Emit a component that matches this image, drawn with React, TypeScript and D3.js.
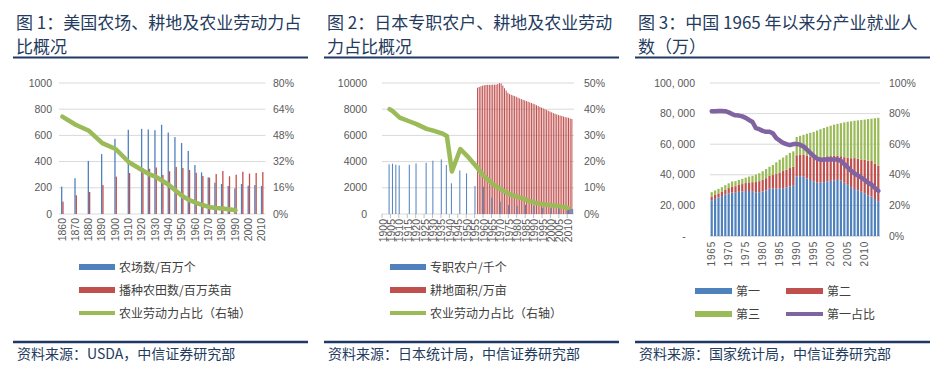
import React from 'react';
import * as d3 from 'd3';

const CJK = '"Noto Sans CJK SC", "Noto Sans", sans-serif';
const NUM = '"Liberation Sans", Arial, "Noto Sans CJK SC", sans-serif';
const NAVY = '#1f3864';
const TITLE_C = '#243b5e';
const AXIS_C = '#595959';
const GRID_C = '#d9d9d9';
const BLUE = '#4f81bd';
const RED = '#c0504d';
const GREEN = '#9bbb59';
const PURPLE = '#8064a2';

// ---------- Panel 1: USA ----------
const usYears = [1860, 1865, 1870, 1875, 1880, 1885, 1890, 1895, 1900, 1905, 1910, 1915, 1920, 1925, 1930, 1935, 1940, 1945, 1950, 1955, 1960, 1965, 1970, 1975, 1980, 1985, 1990, 1995, 2000, 2005, 2010];
const usFarms: (number | null)[] = [209, null, 273, null, 405, null, 457, null, 574, null, 643, null, 650, 645, 640, 681, 622, 587, 542, 481, 374, 318, 280, 239, 229, 214, 196, 229, 216, 221, 214];
const usCropland: (number | null)[] = [94, null, 143, null, 168, null, 221, null, 285, null, 313, null, 351, 345, 355, 298, 326, 359, 351, 336, 315, 290, 277, 305, 328, 288, 300, 323, 308, 313, 320];
const usLaborShare: (number | null)[] = [59.5, null, 54.5, null, 50.8, null, 43.3, null, 39.7, null, 31.6, null, 26.7, 24.4, 22.8, 20.3, 17.7, 14.4, 11.0, 8.6, 7.0, 5.5, 4.3, 3.7, 3.3, 2.9, 2.3, null, null, null, null];
const usLeftTicks = [0, 200, 400, 600, 800, 1000];
const usRightTicks = [0, 16, 32, 48, 64, 80];
const usLabelYears = [1860, 1870, 1880, 1890, 1900, 1910, 1920, 1930, 1940, 1950, 1960, 1970, 1980, 1990, 2000, 2010];

// ---------- Panel 2: Japan ----------
const jpYears = d3.range(1900, 2014);
const jpFarmYears = [1904, 1906, 1908, 1910, 1916, 1920, 1926, 1930, 1935, 1938, 1941, 1946, 1950, 1955, 1960, 1965, 1970, 1975, 1980, 1985, 1990, 1995, 2000, 2005, 2010, 2011, 2012, 2013];
const jpFarmValues = [3790, 3840, 3760, 3710, 3760, 3860, 3910, 4070, 4170, 3740, 2340, 3330, 3100, 2140, 2080, 1250, 940, 690, 620, 690, 610, 480, 450, 440, 400, 380, 380, 380];
const jpLandYears = [1956, 1957, 1958, 1959, 1960, 1961, 1962, 1963, 1964, 1965, 1966, 1967, 1968, 1969, 1970, 1971, 1972, 1973, 1974, 1975, 1976, 1977, 1978, 1979, 1980, 1981, 1982, 1983, 1984, 1985, 1986, 1987, 1988, 1989, 1990, 1991, 1992, 1993, 1994, 1995, 1996, 1997, 1998, 1999, 2000, 2001, 2002, 2003, 2004, 2005, 2006, 2007, 2008, 2009, 2010, 2011, 2012];
const jpLandValues = [9640, 9700, 9750, 9800, 9830, 9850, 9860, 9860, 9860, 9870, 9870, 9880, 9920, 9990, 9960, 9800, 9600, 9420, 9250, 9150, 9100, 9050, 9000, 8950, 8880, 8820, 8770, 8720, 8670, 8620, 8570, 8520, 8470, 8420, 8370, 8300, 8240, 8180, 8120, 8060, 8000, 7950, 7880, 7820, 7760, 7700, 7650, 7600, 7560, 7520, 7480, 7440, 7400, 7370, 7340, 7290, 7250];
const jpLaborYears = [1904, 1906, 1910, 1916, 1920, 1926, 1930, 1935, 1938, 1941, 1946, 1950, 1955, 1960, 1965, 1970, 1975, 1980, 1985, 1990, 1995, 2000, 2005, 2010];
const jpLaborValues = [40.0, 39.2, 36.8, 35.3, 34.3, 32.5, 31.8, 30.8, 29.8, 16.2, 24.8, 22.2, 18.5, 14.5, 11.6, 9.4, 7.6, 6.5, 5.5, 4.3, 3.7, 3.3, 3.0, 2.3];
const jpLeftTicks = [0, 2000, 4000, 6000, 8000, 10000];
const jpRightTicks = [0, 10, 20, 30, 40, 50];
const jpLabelYears = [1900, 1905, 1910, 1915, 1920, 1925, 1930, 1935, 1940, 1945, 1950, 1955, 1960, 1965, 1970, 1975, 1980, 1985, 1990, 1995, 2000, 2005, 2010];

// ---------- Panel 3: China ----------
const cnYears = d3.range(1965, 2015);
const cnPrimary = [23396, 24297, 25165, 26063, 27117, 27811, 28397, 28283, 28857, 29218, 29456, 29443, 29340, 28318, 28634, 29122, 29777, 30859, 31151, 30868, 31130, 31254, 31663, 32249, 33225, 38914, 39098, 38699, 37680, 36628, 35530, 34820, 34840, 35177, 35768, 36043, 36399, 36640, 36204, 34830, 33442, 31941, 30731, 29923, 28890, 27931, 26594, 25773, 24171, 22790];
const cnSecondary = [2408, 2600, 2661, 2743, 3030, 3518, 4006, 4276, 4492, 4712, 5152, 5611, 5831, 6945, 7214, 7707, 8003, 8346, 8679, 9590, 10384, 11216, 11726, 12152, 11976, 13856, 14015, 14355, 14965, 15312, 15655, 16203, 16547, 16600, 16421, 16219, 16234, 15682, 15927, 16709, 17766, 18894, 20186, 20553, 21080, 21842, 22544, 23241, 23170, 23099];
const cnTertiary = [2866, 2908, 2988, 3109, 3078, 3103, 3217, 3295, 3303, 3439, 3560, 3780, 4206, 4890, 5177, 5532, 5945, 6090, 6606, 7739, 8359, 8811, 9395, 9933, 10129, 11979, 12378, 13098, 14163, 15515, 16880, 17927, 18432, 18860, 19205, 19823, 20165, 20958, 21605, 22725, 23439, 24143, 24404, 25087, 25857, 26332, 27282, 27690, 29636, 31364];
const cnPrimaryShare = [81.6, 81.5, 81.7, 81.7, 81.6, 80.8, 79.7, 78.9, 78.7, 78.2, 77.2, 75.8, 74.5, 70.5, 69.8, 68.7, 68.1, 68.1, 67.1, 64.0, 62.4, 60.9, 60.0, 59.4, 60.1, 60.1, 59.7, 58.5, 56.4, 54.3, 52.2, 50.5, 49.9, 49.8, 50.1, 50.0, 50.0, 50.0, 49.1, 46.9, 44.8, 42.6, 40.8, 39.6, 38.1, 36.7, 34.8, 33.6, 31.4, 29.5];
const cnLeftTicks = [0, 20000, 40000, 60000, 80000, 100000];
const cnRightTicks = [0, 20, 40, 60, 80, 100];
const cnLabelYears = [1965, 1970, 1975, 1980, 1985, 1990, 1995, 2000, 2005, 2010];

const titles = [
  ['图 1：美国农场、耕地及农业劳动力占', '比概况'],
  ['图 2：日本专职农户、耕地及农业劳动', '力占比概况'],
  ['图 3：中国 1965 年以来分产业就业人', '数（万）'],
];
const sources = ['资料来源：USDA，中信证券研究部', '资料来源：日本统计局，中信证券研究部', '资料来源：国家统计局，中信证券研究部'];
const legend1 = ['农场数/百万个', '播种农田数/百万英亩', '农业劳动力占比（右轴）'];
const legend2 = ['专职农户/千个', '耕地面积/万亩', '农业劳动力占比（右轴）'];
const legend3 = ['第一', '第二', '第三', '第一占比'];

const panelX = [0, 311, 622];

function Frame({ i }: { i: number }) {
  const ox = panelX[i];
  return (
    <g>
      {titles[i].map((t, k) => (
        <text key={k} x={ox + 16} y={23 + k * 24} dy="0.38em" fontFamily={CJK} fontSize={17} fill={TITLE_C}>{t}</text>
      ))}
      <line x1={ox + 13} x2={ox + 308} y1={57.5} y2={57.5} stroke={NAVY} strokeWidth={2} />
      <line x1={ox + 13} x2={ox + 308} y1={342} y2={342} stroke={NAVY} strokeWidth={2.5} />
      <text x={ox + 17} y={354} dy="0.38em" fontFamily={CJK} fontSize={14} fill={TITLE_C}>{sources[i]}</text>
    </g>
  );
}

function lineFrom(xs: number[], ys: number[]) {
  const pts: [number, number][] = xs.map((x, k) => [x, ys[k]]);
  return d3.line()(pts) || '';
}

function Panel1() {
  const x = d3.scaleBand<number>().domain(usYears).range([59, 265.5]);
  const y = d3.scaleLinear().domain([0, 1000]).range([214, 83]);
  const yr = d3.scaleLinear().domain([0, 80]).range([214, 83]);
  const c = (yr0: number) => (x(yr0) as number) + x.bandwidth() / 2;
  const bw = 1.3;
  const lx: number[] = [], ly: number[] = [];
  usYears.forEach((yy, k) => { const v = usLaborShare[k]; if (v != null) { lx.push(c(yy)); ly.push(yr(v)); } });
  return (
    <g>
      {usLeftTicks.map(t => <line key={t} x1={59} x2={265.5} y1={y(t)} y2={y(t)} stroke={GRID_C} strokeWidth={1} />)}
      {usLeftTicks.map(t => <text key={'l' + t} x={52} y={y(t)} dy="0.35em" textAnchor="end" fontFamily={NUM} fontSize={10.5} fill={AXIS_C}>{t}</text>)}
      {usRightTicks.map(t => <text key={'r' + t} x={273} y={yr(t)} dy="0.35em" fontFamily={NUM} fontSize={10.5} fill={AXIS_C}>{t + '%'}</text>)}
      {usYears.map((yy, k) => usFarms[k] != null ? <rect key={'b' + yy} x={c(yy) - bw} width={bw} y={y(usFarms[k] as number)} height={214 - y(usFarms[k] as number)} fill={BLUE} /> : null)}
      {usYears.map((yy, k) => usCropland[k] != null ? <rect key={'r' + yy} x={c(yy)} width={bw} y={y(usCropland[k] as number)} height={214 - y(usCropland[k] as number)} fill={RED} /> : null)}
      <path d={lineFrom(lx, ly)} fill="none" stroke={GREEN} strokeWidth={4.5} strokeLinejoin="round" strokeLinecap="round" />
      {usLabelYears.map(yy => (
        <text key={'x' + yy} transform={`translate(${c(yy) - 0.5},218) rotate(-90)`} dy="0.35em" textAnchor="end" fontFamily={NUM} fontSize={10.5} fill={AXIS_C}>{yy}</text>
      ))}
      <Legend x={79} labels={legend1} />
    </g>
  );
}

function Legend({ x, labels }: { x: number; labels: string[] }) {
  const rows = [267, 290, 313];
  const cols = [BLUE, RED, GREEN];
  return (
    <g>
      {labels.map((l, k) => (
        <g key={k}>
          {k < 2 ? <rect x={x} y={rows[k] - 3} width={36} height={6} fill={cols[k]} /> : <line x1={x} x2={x + 36} y1={rows[k]} y2={rows[k]} stroke={cols[k]} strokeWidth={4} />}
          <text x={x + 40} y={rows[k]} dy="0.38em" fontFamily={CJK} fontSize={12} fill="#404040">{l}</text>
        </g>
      ))}
    </g>
  );
}

function Panel2() {
  const x = d3.scaleBand<number>().domain(jpYears).range([382, 574]);
  const y = d3.scaleLinear().domain([0, 10000]).range([214, 83]);
  const yr = d3.scaleLinear().domain([0, 50]).range([214, 83]);
  const c = (yr0: number) => (x(yr0) as number) + x.bandwidth() / 2;
  const lx = jpLaborYears.map(c);
  const ly = jpLaborValues.map(v => yr(v));
  return (
    <g>
      {jpLeftTicks.map(t => <line key={t} x1={382} x2={574} y1={y(t)} y2={y(t)} stroke={GRID_C} strokeWidth={1} />)}
      {jpLeftTicks.map(t => <text key={'l' + t} x={367} y={y(t)} dy="0.35em" textAnchor="end" fontFamily={NUM} fontSize={10.5} fill={AXIS_C}>{t}</text>)}
      {jpRightTicks.map(t => <text key={'r' + t} x={584} y={yr(t)} dy="0.35em" fontFamily={NUM} fontSize={10.5} fill={AXIS_C}>{t + '%'}</text>)}
      {jpLabelYears.map(yy => <line key={'t' + yy} x1={x(yy) as number} x2={x(yy) as number} y1={214} y2={218} stroke="#bfbfbf" strokeWidth={1} />)}
      {jpLandYears.map((yy, k) => <rect key={'r' + yy} x={c(yy) - 0.1} width={1.0} y={y(jpLandValues[k])} height={214 - y(jpLandValues[k])} fill={RED} />)}
      {jpFarmYears.map((yy, k) => <rect key={'b' + yy} x={c(yy) - 1.0} width={1.0} y={y(jpFarmValues[k])} height={214 - y(jpFarmValues[k])} fill={BLUE} />)}
      <path d={lineFrom(lx, ly)} fill="none" stroke={GREEN} strokeWidth={4.5} strokeLinejoin="round" strokeLinecap="round" />
      {jpLabelYears.map(yy => (
        <text key={'x' + yy} transform={`translate(${c(yy)},219) rotate(-90)`} dy="0.35em" textAnchor="end" fontFamily={NUM} fontSize={10.5} fill={AXIS_C}>{yy}</text>
      ))}
      <Legend x={390} labels={legend2} />
    </g>
  );
}

function Panel3() {
  const x = d3.scaleBand<number>().domain(cnYears).range([710, 880]);
  const y = d3.scaleLinear().domain([0, 100000]).range([236, 83]);
  const yr = d3.scaleLinear().domain([0, 100]).range([236, 83]);
  const c = (yr0: number) => (x(yr0) as number) + x.bandwidth() / 2;
  const bw = 2.2;
  const fmt = (t: number) => (t === 0 ? '-' : d3.format(',')(t).replace(',', ', '));
  const lx = cnYears.map(c);
  const ly = cnPrimaryShare.map(v => yr(v));
  const legendItems = [
    { x: 695, y: 291, color: BLUE, label: legend3[0], line: false },
    { x: 786, y: 291, color: RED, label: legend3[1], line: false },
    { x: 695, y: 314, color: GREEN, label: legend3[2], line: false },
    { x: 786, y: 314, color: PURPLE, label: legend3[3], line: true },
  ];
  return (
    <g>
      {cnLeftTicks.map(t => <line key={t} x1={710} x2={880} y1={y(t)} y2={y(t)} stroke={t === 0 ? '#bfbfbf' : GRID_C} strokeWidth={1} />)}
      {cnLeftTicks.map(t => <text key={'l' + t} x={t === 0 ? 684 : 695} y={y(t)} dy="0.35em" textAnchor={t === 0 ? 'middle' : 'end'} fontFamily={NUM} fontSize={10.5} fill={AXIS_C}>{fmt(t)}</text>)}
      {cnRightTicks.map(t => <text key={'r' + t} x={889} y={yr(t)} dy="0.35em" fontFamily={NUM} fontSize={10.5} fill={AXIS_C}>{t + '%'}</text>)}
      {cnYears.map((yy, k) => {
        const p = cnPrimary[k], s = cnSecondary[k], t = cnTertiary[k];
        return (
          <g key={yy}>
            <rect x={c(yy) - bw / 2} width={bw} y={y(p)} height={y(0) - y(p)} fill={BLUE} />
            <rect x={c(yy) - bw / 2} width={bw} y={y(p + s)} height={y(p) - y(p + s)} fill={RED} />
            <rect x={c(yy) - bw / 2} width={bw} y={y(p + s + t)} height={y(p + s) - y(p + s + t)} fill={GREEN} />
          </g>
        );
      })}
      <path d={lineFrom(lx, ly)} fill="none" stroke={PURPLE} strokeWidth={4.5} strokeLinejoin="round" strokeLinecap="round" />
      {cnLabelYears.map(yy => (
        <text key={'x' + yy} transform={`translate(${c(yy)},241) rotate(-90)`} dy="0.35em" textAnchor="end" fontFamily={NUM} fontSize={10} letterSpacing={0.8} fill={AXIS_C}>{yy}</text>
      ))}
      {legendItems.map((it, k) => (
        <g key={'lg' + k}>
          {it.line ? <line x1={it.x} x2={it.x + 37} y1={it.y} y2={it.y} stroke={it.color} strokeWidth={4} /> : <rect x={it.x} y={it.y - 3} width={37} height={6} fill={it.color} />}
          <text x={it.x + 41} y={it.y} dy="0.38em" fontFamily={CJK} fontSize={12} fill="#404040">{it.label}</text>
        </g>
      ))}
    </g>
  );
}

export default function App() {
  return (
    <svg width={942} height={370} style={{ position: 'absolute', left: 0, top: 0, background: '#fff' }}>
      <rect width={942} height={370} fill="#fff" />
      <Frame i={0} />
      <Frame i={1} />
      <Frame i={2} />
      <Panel1 />
      <Panel2 />
      <Panel3 />
    </svg>
  );
}
